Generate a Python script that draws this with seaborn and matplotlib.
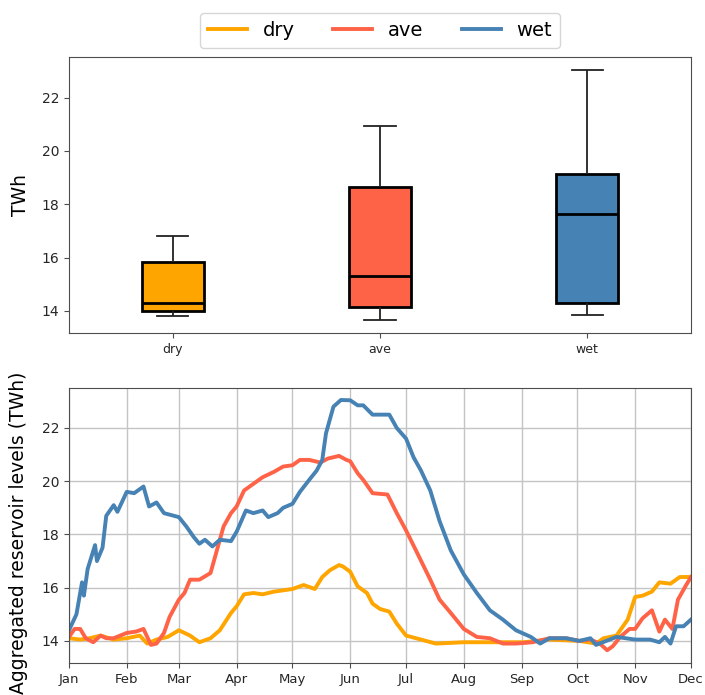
import numpy as np
import pandas as pd
import matplotlib
matplotlib.use("Agg")
import matplotlib.pyplot as plt
import matplotlib.dates as mdates
from matplotlib.lines import Line2D
import seaborn as sns

# ---------------- data ----------------
scenarios = ["dry", "ave", "wet"]
colors = ["#FFA500", "#FF6347", "#4682B4"]

# five-number summaries (min, Q1, median, Q3, max), TWh
box_dry = [13.79, 14.01, 14.29, 15.83, 16.82]
box_ave = [13.64, 14.14, 15.29, 18.64, 20.95]
box_wet = [13.84, 14.29, 17.64, 19.15, 23.04]

# aggregated reservoir levels: day offset from 1 Jan, value in TWh
dry_day = [0, 6, 11, 17, 24, 31, 38, 42, 47, 53, 59, 65, 70, 76, 81, 87, 90, 94,
           99, 104, 110, 115, 120, 126, 132, 136, 140, 145, 147, 151, 155, 160,
           163, 167, 172, 176, 181, 189, 197, 212, 232, 244, 258, 274, 283, 287,
           294, 300, 304, 308, 313, 317, 323, 328, 334]
dry_twh = [14.1, 14.05, 14.1, 14.2, 14.05, 14.1, 14.2, 13.9, 14.05, 14.15, 14.4,
           14.2, 13.95, 14.1, 14.4, 15.05, 15.3, 15.75, 15.8, 15.75, 15.85, 15.9,
           15.95, 16.1, 15.95, 16.4, 16.65, 16.85, 16.8, 16.6, 16.05, 15.8, 15.4,
           15.2, 15.1, 14.65, 14.2, 14.05, 13.9, 13.95, 13.95, 13.95, 14.05, 14.0,
           13.9, 14.1, 14.2, 14.8, 15.65, 15.7, 15.85, 16.2, 16.15, 16.4, 16.4]

ave_day = [0, 3, 6, 9, 13, 17, 20, 24, 31, 36, 40, 44, 47, 51, 54, 59, 62, 65,
           70, 76, 79, 83, 87, 90, 94, 99, 104, 110, 115, 120, 124, 129, 135,
           139, 145, 149, 151, 155, 158, 163, 171, 176, 181, 187, 194, 199, 205,
           212, 219, 226, 233, 240, 249, 258, 267, 274, 280, 285, 289, 292, 296,
           301, 304, 308, 313, 317, 320, 324, 327, 331, 334]
ave_twh = [14.15, 14.45, 14.45, 14.1, 13.95, 14.2, 14.1, 14.1, 14.3, 14.35, 14.45,
           13.85, 13.9, 14.3, 14.9, 15.55, 15.8, 16.3, 16.3, 16.55, 17.3, 18.3,
           18.8, 19.05, 19.65, 19.9, 20.15, 20.35, 20.55, 20.6, 20.8, 20.8, 20.7,
           20.85, 20.95, 20.8, 20.75, 20.3, 20.05, 19.55, 19.5, 18.8, 18.15, 17.3,
           16.3, 15.55, 15.05, 14.45, 14.15, 14.1, 13.9, 13.9, 13.95, 14.1, 14.1,
           14.0, 14.05, 13.9, 13.65, 13.8, 14.15, 14.45, 14.45, 14.85, 15.15,
           14.35, 14.8, 14.45, 15.55, 16.05, 16.4]

wet_day = [0, 4, 7, 8, 10, 14, 15, 18, 20, 24, 26, 31, 35, 40, 43, 47, 51, 59,
           63, 67, 70, 73, 77, 81, 87, 90, 95, 99, 104, 107, 112, 115, 120, 124,
           129, 133, 136, 138, 142, 146, 151, 155, 158, 163, 172, 176, 181, 185,
           189, 194, 199, 205, 212, 219, 226, 233, 240, 248, 253, 258, 267, 274,
           280, 283, 294, 304, 312, 317, 320, 323, 326, 330, 334]
wet_twh = [14.4, 15.0, 16.2, 15.7, 16.7, 17.6, 17.0, 17.5, 18.7, 19.1, 18.85,
           19.6, 19.55, 19.8, 19.05, 19.2, 18.8, 18.65, 18.3, 17.9, 17.65, 17.8,
           17.55, 17.8, 17.75, 18.1, 18.9, 18.8, 18.9, 18.65, 18.8, 19.0, 19.15,
           19.6, 20.05, 20.4, 20.8, 21.8, 22.8, 23.05, 23.04, 22.85, 22.85, 22.5,
           22.5, 22.0, 21.6, 20.9, 20.4, 19.65, 18.5, 17.4, 16.5, 15.8, 15.15,
           14.8, 14.4, 14.15, 13.9, 14.1, 14.1, 14.0, 14.1, 13.85, 14.15, 14.05,
           14.05, 13.95, 14.15, 13.9, 14.55, 14.55, 14.8]

# ---------------- frames ----------------
box_df = pd.DataFrame({
    "scenario": np.repeat(scenarios, 5),
    "TWh": box_dry + box_ave + box_wet,
})

start = pd.Timestamp("2018-01-01")
frames = []
for name, d, v in [("dry", dry_day, dry_twh), ("ave", ave_day, ave_twh),
                   ("wet", wet_day, wet_twh)]:
    frames.append(pd.DataFrame({
        "date": start + pd.to_timedelta(d, unit="D"),
        "TWh": v,
        "scenario": name,
    }))
ts = pd.concat(frames, ignore_index=True)

palette = dict(zip(scenarios, colors))

# ---------------- figure ----------------
plt.rcParams.update({
    "font.family": "DejaVu Sans",
    "axes.edgecolor": "#4d4d4d",
    "xtick.color": "#4d4d4d",
    "ytick.color": "#4d4d4d",
    "xtick.labelcolor": "#262626",
    "ytick.labelcolor": "#262626",
})

fig = plt.figure(figsize=(7.05, 6.95), dpi=100)
ax1 = fig.add_axes([69 / 705, 1 - 333 / 695, 622 / 705, 276 / 695])
ax2 = fig.add_axes([69 / 705, 1 - 663 / 695, 622 / 705, 275.5 / 695])

ylim = (13.17, 23.52)

# top: box plot
sns.boxplot(data=box_df, x="scenario", y="TWh", hue="scenario", order=scenarios,
            hue_order=scenarios, palette=palette, saturation=1, width=0.3,
            whis=(0, 100), linecolor="black", linewidth=2.0, legend=False, ax=ax1,
            whiskerprops={"linewidth": 1.3, "color": "#222222"},
            capprops={"linewidth": 1.3, "color": "#222222"},
            boxprops={"edgecolor": "black"},
            medianprops={"linewidth": 2.0, "color": "black"})
ax1.set_ylim(*ylim)
ax1.set_yticks([14, 16, 18, 20, 22])
ax1.set_xlabel("")
ax1.set_ylabel("TWh", fontsize=13.5)
ax1.yaxis.set_label_coords(-0.063, 0.5)
ax1.tick_params(axis="y", labelsize=10)
ax1.tick_params(axis="x", labelsize=9)
ax1.grid(False)

# bottom: time series
sns.lineplot(data=ts, x="date", y="TWh", hue="scenario", hue_order=scenarios,
             palette=palette, linewidth=2.8, estimator=None, legend=False, ax=ax2)
ax2.set_ylim(*ylim)
ax2.set_yticks([14, 16, 18, 20, 22])
ax2.set_xlim(pd.Timestamp("2018-01-01"), pd.Timestamp("2018-12-01"))
ax2.xaxis.set_major_locator(mdates.MonthLocator())
ax2.xaxis.set_major_formatter(mdates.DateFormatter("%b"))
ax2.set_xlabel("")
ax2.set_ylabel("Aggregated reservoir levels (TWh)", fontsize=13.5)
ax2.yaxis.set_label_coords(-0.066, 0.472)
ax2.tick_params(axis="y", labelsize=10)
ax2.tick_params(axis="x", labelsize=9.5)
ax2.grid(True, color="#c4c4c4", linewidth=1.0)
ax2.set_axisbelow(True)

handles = [Line2D([], [], color=c, linewidth=2.8) for c in colors]
ax1.legend(handles, scenarios, loc="lower center", bbox_to_anchor=(0.5, 1.033),
           borderaxespad=0, ncol=3, fontsize=14, frameon=True)

fig.savefig("out.png", dpi=100)
